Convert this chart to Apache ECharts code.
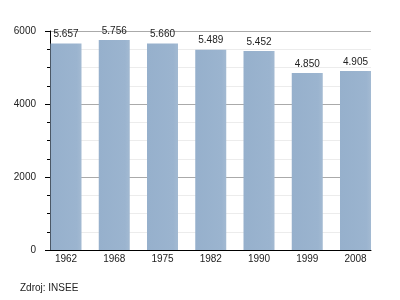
<!DOCTYPE html>
<html>
<head>
<meta charset="utf-8">
<script src="https://cdn.jsdelivr.net/npm/echarts@6/dist/echarts.min.js"></script>
<style>html,body{margin:0;padding:0;background:#fff;}#c{width:400px;height:300px;}</style>
</head>
<body>
<div id="c"></div>
<script>
var categories = ['1962', '1968', '1975', '1982', '1990', '1999', '2008'];
var population = [5657, 5756, 5660, 5489, 5452, 4850, 4905];
var yTicks = [0, 2000, 4000, 6000];
var sourceText = 'Zdroj: INSEE';

function fmt(v) {
  return String(v).replace(/\B(?=(\d{3})+(?!\d))/g, '.');
}

var chart = echarts.init(document.getElementById('c'), null, {renderer: 'canvas'});
var font = 'Liberation Sans, Arial, sans-serif';
chart.setOption({
  animation: false,
  backgroundColor: '#fff',
  textStyle: {fontFamily: font},
  graphic: [{
    type: 'text', left: 20, top: 283,
    style: {text: sourceText, fontSize: 10, fill: '#222', fontFamily: font}
  }],
  grid: [
    {left: 50, right: 29, top: 31, bottom: 50},
    {left: 66, right: 44.5, top: 31, bottom: 50}
  ],
  xAxis: [
    {type: 'value', gridIndex: 0, min: 0, max: 1, axisLine: {show: true, onZero: false, lineStyle: {color: '#000', width: 1}},
     axisTick: {show: false}, axisLabel: {show: false}, splitLine: {show: false}},
    {type: 'category', gridIndex: 1, data: categories, boundaryGap: false,
     axisLine: {show: false}, axisTick: {show: false},
     axisLabel: {fontSize: 10, color: '#222', margin: 4, fontFamily: font, interval: 0}}
  ],
  yAxis: [
    {type: 'value', gridIndex: 0, min: yTicks[0], max: yTicks[yTicks.length - 1], interval: 2000,
     axisLine: {show: true, lineStyle: {color: '#000', width: 1}},
     axisTick: {show: true, length: 5, lineStyle: {color: '#000'}},
     minorTick: {show: true, splitNumber: 4, length: 3, lineStyle: {color: '#000'}},
     axisLabel: {fontSize: 10, color: '#222', margin: 14, fontFamily: font,
       formatter: function (v) { return String(v); }},
     splitLine: {show: true, lineStyle: {color: '#aaa', width: 1}},
     minorSplitLine: {show: true, lineStyle: {color: '#ececec', width: 1}}},
    {type: 'value', gridIndex: 1, min: 0, max: 6000, show: false}
  ],
  series: [{
    type: 'bar',
    xAxisIndex: 1, yAxisIndex: 1,
    data: population,
    barWidth: 31,
    clip: false,
    itemStyle: {
      color: {type: 'linear', x: 0, y: 0, x2: 1, y2: 0,
        colorStops: [{offset: 0, color: '#96b0cc'}, {offset: 0.85, color: '#9bb4cf'}, {offset: 1, color: '#a3bad2'}]}
    },
    label: {show: true, position: 'top', distance: 4, fontSize: 10, color: '#222', fontFamily: font,
      formatter: function (p) { return fmt(p.value); }}
  }]
});
</script>
</body>
</html>
